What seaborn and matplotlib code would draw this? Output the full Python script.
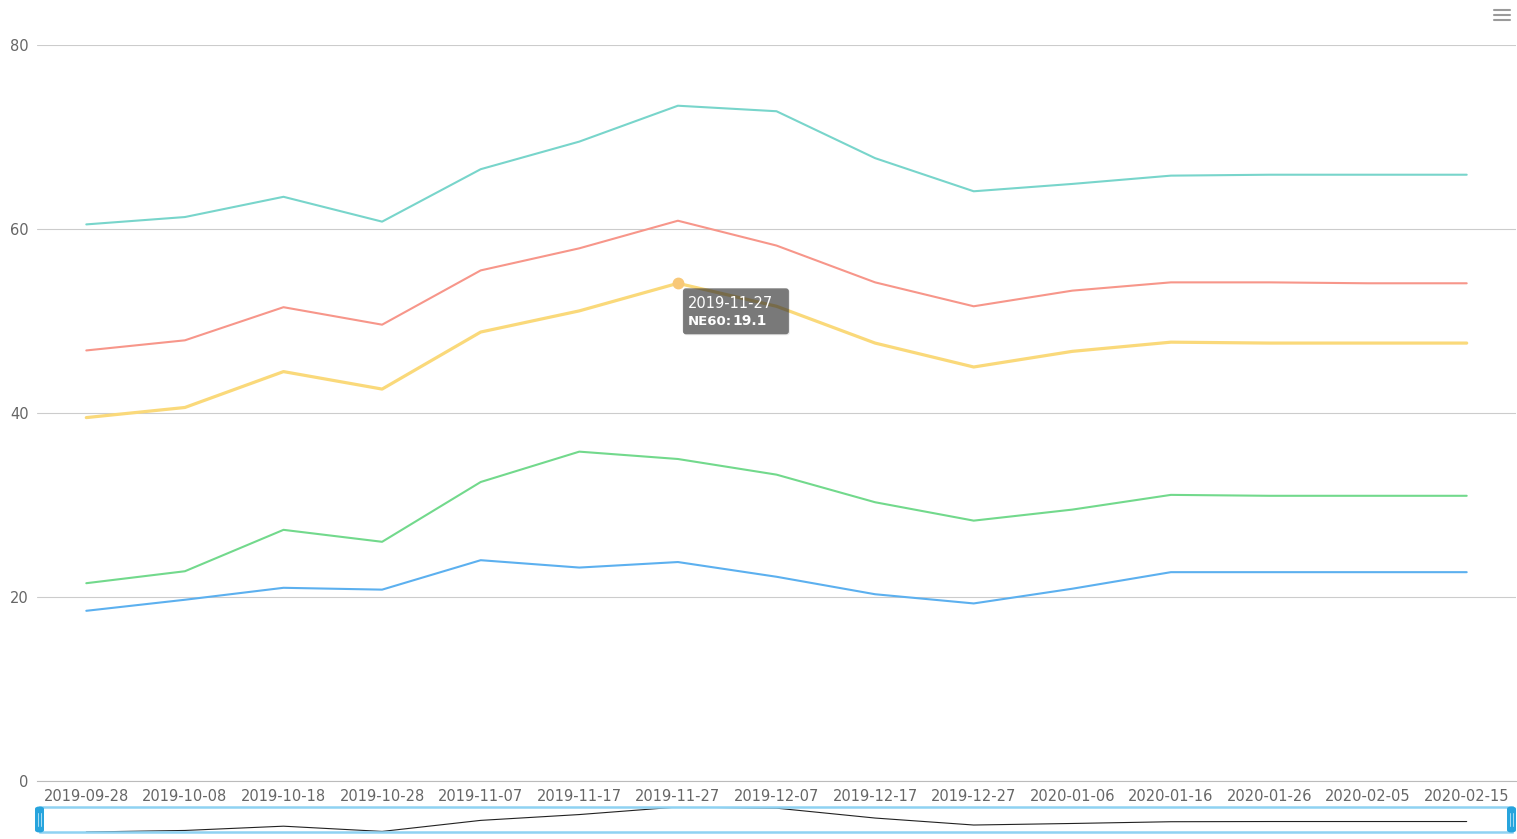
import numpy as np
import pandas as pd
import matplotlib
matplotlib.use("Agg")
import matplotlib.pyplot as plt
import matplotlib.transforms as mtransforms
from matplotlib.patches import Rectangle, FancyBboxPatch
from matplotlib.lines import Line2D
import seaborn as sns

# ---------------- data ----------------
dates = ["2019-09-28", "2019-10-08", "2019-10-18", "2019-10-28", "2019-11-07",
         "2019-11-17", "2019-11-27", "2019-12-07", "2019-12-17", "2019-12-27",
         "2020-01-06", "2020-01-16", "2020-01-26", "2020-02-05", "2020-02-15"]
series_names = ["NE20", "NE40", "NE60", "NE80", "NE100"]
ne20 = [18.5, 19.7, 21.0, 20.8, 24.0, 23.2, 23.8, 22.2, 20.3, 19.3, 20.9, 22.7, 22.7, 22.7, 22.7]
ne40 = [3.0, 3.1, 6.3, 5.2, 8.5, 12.6, 11.2, 11.1, 10.0, 9.0, 8.6, 8.4, 8.3, 8.3, 8.3]
ne60 = [18.0, 17.8, 17.2, 16.6, 16.3, 15.3, 19.1, 18.3, 17.3, 16.7, 17.2, 16.6, 16.6, 16.6, 16.6]
ne80 = [7.3, 7.3, 7.0, 7.0, 6.7, 6.8, 6.8, 6.6, 6.6, 6.6, 6.6, 6.5, 6.6, 6.5, 6.5]
ne100 = [13.7, 13.4, 12.0, 11.2, 11.0, 11.6, 12.5, 14.6, 13.5, 12.5, 11.6, 11.6, 11.7, 11.8, 11.8]
y_ticks = [0, 20, 40, 60, 80]
hover_index = 6
hover_series = "NE60"

colors = ["#5cb0ef", "#72d98c", "#fad97a", "#f7968a", "#78d5cb"]

# stacked values
raw = np.array([ne20, ne40, ne60, ne80, ne100])
stacked = np.cumsum(raw, axis=0)
pos = np.arange(len(dates))
df = pd.DataFrame({
    "pos": np.tile(pos, len(series_names)),
    "value": stacked.ravel(),
    "series": np.repeat(series_names, len(dates)),
})

# ---------------- figure ----------------
sns.set_theme(style="white")
plt.rcParams["font.family"] = ["DejaVu Sans"]

W, H = 1517, 839
fig = plt.figure(figsize=(W / 100, H / 100), dpi=100)
fig.patch.set_facecolor("white")

left_px, right_px, top_px, bottom_px = 37, 1516, 45, 781
ax = fig.add_axes([left_px / W, 1 - bottom_px / H, (right_px - left_px) / W, (bottom_px - top_px) / H])

for i, name in enumerate(series_names):
    lw = 2.3 if name == hover_series else 1.5
    sns.lineplot(data=df[df.series == name], x="pos", y="value", color=colors[i],
                 linewidth=lw, ax=ax, legend=False, zorder=3 + i)

ax.set_xlim(-0.5, len(dates) - 0.5)
ax.set_ylim(y_ticks[0], y_ticks[-1])
ax.set_yticks(y_ticks)
ax.set_yticklabels([str(v) for v in y_ticks])
ax.set_xticks(pos)
ax.set_xticklabels(dates)
ax.set_xticks(np.arange(-0.5, len(dates), 1.0), minor=True)
ax.set_xlabel("")
ax.set_ylabel("")
ax.grid(axis="y", color="#cccccc", linewidth=0.8, zorder=0)
ax.grid(axis="x", visible=False)
for s in ["top", "right", "left"]:
    ax.spines[s].set_visible(False)
ax.spines["bottom"].set_color("#bbbbbb")
ax.spines["bottom"].set_linewidth(0.8)
ax.tick_params(axis="y", length=0, pad=6, labelsize=10.5, labelcolor="#666666")
ax.tick_params(axis="x", which="major", length=0, pad=6, labelsize=10.5, labelcolor="#666666")
ax.tick_params(axis="x", which="minor", length=4, width=0.8, color="#cccccc", direction="out")
ax.set_facecolor("white")

# ---------------- hover tooltip ----------------
hx = hover_index
hy = stacked[series_names.index(hover_series)][hover_index]
ax.plot([hx], [hy], marker="o", markersize=7.5, color="#f8c878", zorder=20, clip_on=False)
pix_anchor = mtransforms.Affine2D() + mtransforms.ScaledTranslation(hx, hy, ax.transData)
shadow_box = FancyBboxPatch((6, -52), 106, 46, boxstyle="round,pad=0,rounding_size=3",
                            transform=pix_anchor, facecolor=(0, 0, 0, 0.08), edgecolor="none",
                            zorder=29, clip_on=False)
ax.add_patch(shadow_box)
tip = FancyBboxPatch((5, -51), 106, 46, boxstyle="round,pad=0,rounding_size=3",
                     transform=pix_anchor, facecolor=(0.2, 0.2, 0.2, 0.62), edgecolor="none",
                     zorder=30, clip_on=False)
ax.add_patch(tip)
ax.annotate(dates[hover_index], xy=(hx, hy), xycoords="data", xytext=(10, -20),
            textcoords="offset pixels", ha="left", va="center", color="white",
            fontsize=10.5, zorder=31)
t1 = ax.annotate(hover_series + ":", xy=(hx, hy), xycoords="data", xytext=(10, -38),
                 textcoords="offset pixels", ha="left", va="center", color="white",
                 fontsize=9.5, fontweight="semibold", zorder=31)
ax.annotate(f"{raw[series_names.index(hover_series)][hover_index]:.1f}", xy=(1, 0.5),
            xycoords=t1, ha="left", va="center", color="white", fontsize=10,
            fontweight="bold", zorder=31)

# ---------------- data zoom slider ----------------
sl_top, sl_bot = 807, 832
ax2 = fig.add_axes([left_px / W, 1 - sl_bot / H, (right_px - left_px) / W, (sl_bot - sl_top) / H])
ax2.set_xlim(-0.5, len(dates) - 0.5)
top_series = stacked[-1]
ax2.set_ylim(top_series.min(), top_series.max())
ax2.plot(pos, top_series, color="#222222", linewidth=0.8, zorder=2)
ax2.axis("off")


def fp(x, y):
    return (x / W, 1 - y / H)


border = Rectangle(fp(40, sl_bot), (1512 - 40) / W, (sl_bot - sl_top) / H,
                   transform=fig.transFigure, facecolor="none", edgecolor="#8fd2f2",
                   linewidth=1.8, zorder=5)
fig.add_artist(border)
for cx in (39.5, 1511.5):
    h = FancyBboxPatch(fp(cx - 4.5, sl_bot + 0.5), 9 / W, 26 / H,
                       boxstyle="round,pad=0,rounding_size=0.003",
                       transform=fig.transFigure, facecolor="#27a4dd", edgecolor="none", zorder=6)
    fig.add_artist(h)
    for dx in (-1.2, 1.2):
        fig.add_artist(Line2D([(cx + dx) / W] * 2, [1 - (sl_bot - 6) / H, 1 - (sl_top + 6) / H],
                              transform=fig.transFigure, color="#a8dcf3", linewidth=0.7, zorder=7))

# ---------------- toolbox menu icon ----------------
for yy in (10, 15, 20):
    fig.add_artist(Line2D([1494 / W, 1510 / W], [1 - yy / H] * 2, transform=fig.transFigure,
                          color="#9a9a9a", linewidth=1.5))

fig.savefig("out.png", dpi=100, facecolor="white")
